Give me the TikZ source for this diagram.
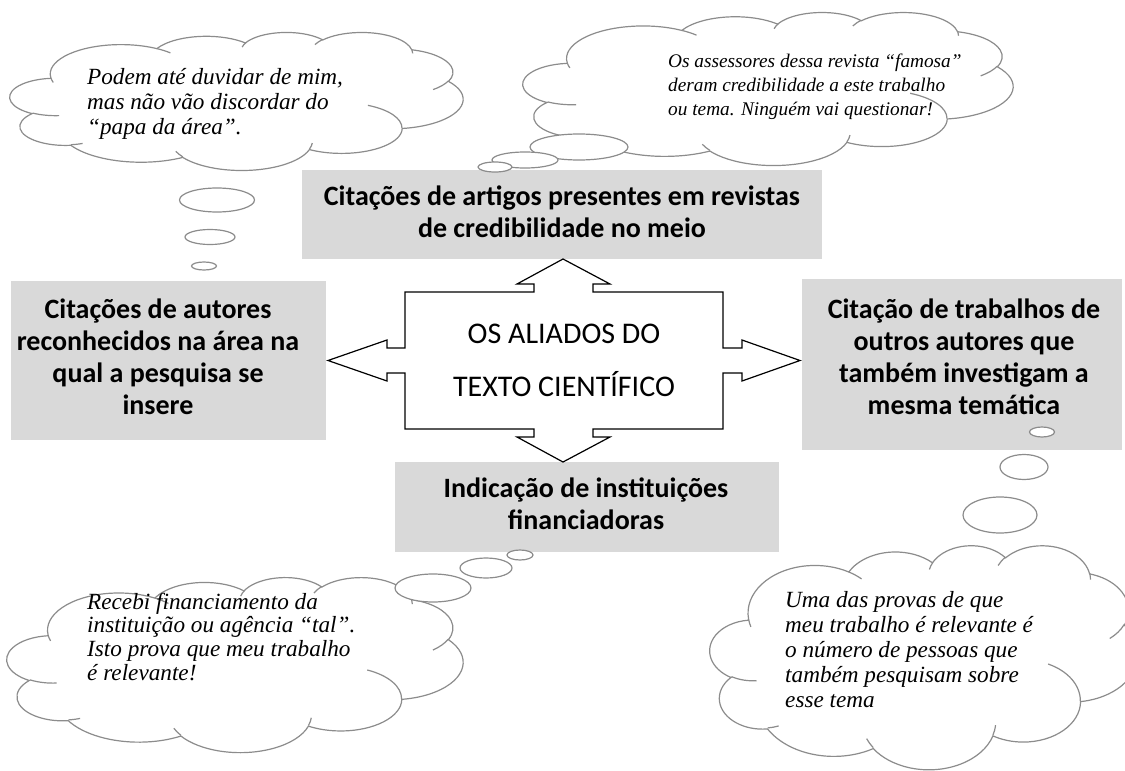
\documentclass[tikz,border=0pt]{standalone}
\usepackage{fontspec}
\setmainfont{Liberation Serif}
\newfontfamily\calibri{Carlito}
\definecolor{boxgray}{RGB}{217,217,217}
\definecolor{cloudgray}{RGB}{140,140,140}
\newcommand\ctrline[1]{\hbox to 0pt{\hss#1\hss}}
\tikzset{
  declare function={pa(\angA,\radW,\radH)=atan2(\radW*sin(\angA),\radH*cos(\angA));},
  wa/.style n args={4}{x radius=#1, y radius=#2, start angle={pa(#3,#1,#2)},
     delta angle={mod(pa(#3+#4,#1,#2)-pa(#3,#1,#2)+720,360)}},
  graybox/.style={fill=boxgray, draw=none, inner sep=0pt},
  cloudline/.style={draw=cloudgray, line width=1.2pt},
  bubble/.style={draw=cloudgray, line width=1.2pt, fill=white},
  boxtext/.style={anchor=base, inner sep=0pt, font=\calibri\bfseries\fontsize{28}{32.3}\selectfont},
  centertext/.style={anchor=base, inner sep=0pt, font=\calibri\fontsize{30}{53}\selectfont},
  cloudtext/.style={anchor=base west, inner sep=0pt, font=\itshape\fontsize{23.2}{25}\selectfont},
  cloudtextsmall/.style={anchor=base west, inner sep=0pt, font=\itshape\fontsize{19.3}{24}\selectfont},
  quadarrow/.style={draw=black, fill=white, line width=1.2pt, line join=miter},
}
\newcommand\wordcloud[4]{%
\begin{scope}[shift={(#1,#2)},xscale=#3/432,yscale=#4/432]
\draw[cloudline,fill=white] (39,143.7) arc[wa={67.53}{91.90}{-190.4875}{123.7805}]
 arc[wa={53.33}{72.67}{-144.1024}{89.9452}]
 arc[wa={43.65}{59.45}{-145.8079}{99.7230}]
 arc[wa={48.57}{65.95}{-130.9861}{117.2417}]
 arc[wa={53.33}{72.73}{-78.7089}{109.0269}]
 arc[wa={67.75}{92.20}{-46.2673}{130.2690}]
 arc[wa={57.85}{78.67}{0.6250}{114.0333}]
 arc[wa={67.52}{92.15}{22.4516}{115.1726}]
 arc[wa={77.20}{105.43}{66.2426}{75.7110}]
 arc[wa={43.60}{59.18}{-274.9421}{146.7356}]
 arc[wa={43.45}{59.45}{-246.8285}{152.5189}]
 -- cycle;
\draw[cloudline] (46.93,261.77) arc[wa={43.45}{59.45}{86.7420}{26.4295}]
 (69.28,348.99) arc[wa={43.60}{59.18}{73.6105}{11.4475}]
 (164.78,390.90) arc[wa={67.52}{92.15}{137.6242}{14.0811}]
 (288.27,347.51) arc[wa={67.52}{92.15}{6.4533}{15.9984}]
 (341.29,229.54) arc[wa={57.85}{78.67}{-70.2924}{70.9174}]
 (417.98,153.54) arc[wa={53.33}{72.73}{30.3180}{27.7515}]
 (383.24,54.26) arc[wa={48.57}{65.95}{-13.7443}{14.8589}]
 (290.78,39.52) arc[wa={48.57}{65.95}{-149.1815}{18.1954}]
 (221.41,47.20) arc[wa={43.65}{59.45}{-163.4943}{17.6864}]
 (140.00,51.92) arc[wa={67.53}{91.90}{-66.7070}{12.3194}]
 (41.27,157.89) arc[wa={67.53}{91.90}{157.6544}{11.8582}];
\end{scope}}
\begin{document}
\begin{tikzpicture}[x=1pt,y=1pt,yscale=-1]
\useasboundingbox (0,0) rectangle (1125,771);
% gray boxes
\node[graybox, minimum width=520pt, minimum height=89pt] (bTop) at (562,214.5) {};
\node[graybox, minimum width=315pt, minimum height=159pt] (bLeft) at (168.5,360.5) {};
\node[graybox, minimum width=320pt, minimum height=171pt] (bRight) at (962,364.5) {};
\node[graybox, minimum width=384pt, minimum height=90pt] (bBottom) at (587,507) {};
% central four-way arrow
\draw[quadarrow] (563,259) -- (610,284) -- (593,284) -- (593,292) -- (723,292)
  -- (723,348) -- (742,348) -- (742,340) -- (800,360.5) -- (742,381) -- (742,373)
  -- (723,373) -- (723,429) -- (593,429) -- (593,437) -- (610,437) -- (563,462)
  -- (517,437) -- (534,437) -- (534,429) -- (405,429) -- (405,373) -- (387,373)
  -- (387,381) -- (328,360.5) -- (387,340) -- (387,348) -- (405,348) -- (405,292)
  -- (534,292) -- (534,284) -- (517,284) -- cycle;
\node[centertext] (center) at (564,343) {\vtop{\ctrline{OS ALIADOS DO}\ctrline{TEXTO CIENTÍFICO}}};
% box texts
\node[boxtext] (tTop) at (562,205) {\vtop{\ctrline{Citações de artigos presentes em revistas}\ctrline{de credibilidade no meio}}};
\node[boxtext] (tLeft) at (158,318) {\vtop{\ctrline{Citações de autores}\ctrline{reconhecidos na área na}\ctrline{qual a pesquisa se}\ctrline{insere}}};
\node[boxtext] (tRight) at (964,318) {\vtop{\ctrline{Citação de trabalhos de}\ctrline{outros autores que}\ctrline{também investigam a}\ctrline{mesma temática}}};
\node[boxtext] (tBottom) at (586,497) {\vtop{\ctrline{Indicação de instituições}\ctrline{financiadoras}}};
% clouds
\wordcloud{10}{32}{453}{138}
\wordcloud{523}{12}{490}{153}
\wordcloud{7}{577}{456}{175}
\wordcloud{710}{545}{428}{224}
% thought bubbles
\draw[bubble] (217,200) ellipse[x radius=37.5, y radius=12];
\draw[bubble] (210,237) ellipse[x radius=25, y radius=7.5];
\draw[bubble] (204,266) ellipse[x radius=12.5, y radius=4];
\draw[bubble] (579,147) ellipse[x radius=49, y radius=13];
\draw[bubble] (525,160) ellipse[x radius=33, y radius=8];
\draw[bubble] (495,167) ellipse[x radius=17, y radius=5];
\draw[bubble] (433,588) ellipse[x radius=38, y radius=14];
\draw[bubble] (486,568) ellipse[x radius=26, y radius=10];
\draw[bubble] (520,555) ellipse[x radius=13, y radius=5];
\draw[bubble] (1042,432) ellipse[x radius=12.5, y radius=5];
\draw[bubble] (1024,467) ellipse[x radius=24, y radius=12.5];
\draw[bubble] (1000,515) ellipse[x radius=37, y radius=18];
% cloud texts
\node[cloudtext] (cTL) at (87,84) {\vtop{\hbox{Podem até duvidar de mim,}\hbox{mas não vão discordar do}\hbox{“papa da área”.}}};
\node[cloudtextsmall] (cTR) at (668,67) {\vtop{\hbox{Os assessores dessa revista “famosa”}\hbox{deram credibilidade a este trabalho}\hbox{ou tema. Ninguém vai questionar!}}};
\node[cloudtext, font=\itshape\fontsize{23.2}{23.8}\selectfont] (cBL) at (87,609) {\vtop{\hbox{Recebi financiamento da}\hbox{instituição ou agência “tal”.}\hbox{Isto prova que meu trabalho}\hbox{é relevante!}}};
\node[cloudtext] (cBR) at (785,607) {\vtop{\hbox{Uma das provas de que}\hbox{meu trabalho é relevante é}\hbox{o número de pessoas que}\hbox{também pesquisam sobre}\hbox{esse tema}}};
\end{tikzpicture}
\end{document}
